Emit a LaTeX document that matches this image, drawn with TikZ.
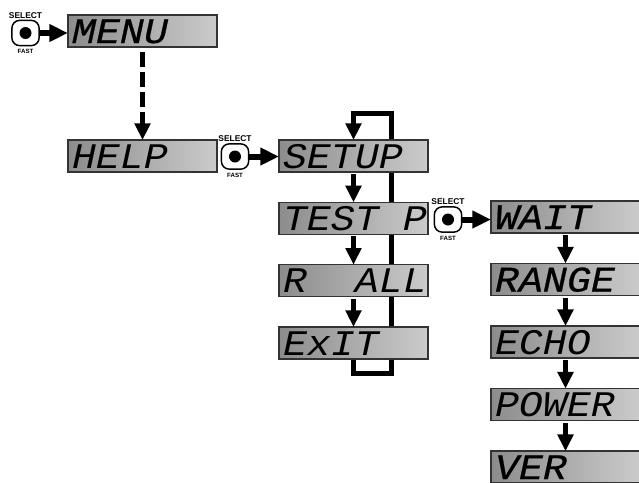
\documentclass[tikz,border=0pt]{standalone}
\usepackage{fontspec}
\usetikzlibrary{positioning,arrows.meta,backgrounds}
\newfontfamily\lcdfont[FakeStretch=1.11]{Liberation Mono}
\newfontfamily\lcdheavy[FakeStretch=1.11,FakeBold=0.6]{Liberation Mono}
\newfontfamily\keyfont{Liberation Sans}
\newcommand{\lcdblank}{\hspace*{18pt}}
\definecolor{lcddark}{HTML}{8C8C8C}
\definecolor{lcdlight}{HTML}{CBCBCB}
\definecolor{lcdedge}{HTML}{333333}
\begin{document}
\begin{tikzpicture}[x=0.75pt,y=-0.75pt,
     node distance = 22.75pt and 3mm,
every label/.style = {inner sep=0pt, outer sep=0pt},
        lcd/.style = {rectangle, draw=lcdedge, line width=1.1pt, outer sep=0pt,
                      left color=lcddark, middle color=lcdlight, right color=lcdlight,
                      minimum width=111.75pt, minimum height=24pt,
                      inner xsep=3pt, inner ysep=3pt, text width=105.75pt,
                      text height=18pt, text depth=0pt, align=left,
                      font=\lcdfont\itshape\fontsize{27}{27}\selectfont},
     lcdbold/.style = {lcd, font=\lcdheavy\itshape\fontsize{27}{27}\selectfont},
        key/.style = {rectangle, rounded corners=6pt, draw=black, fill=white,
                      line width=1.1pt, outer sep=0pt, inner sep=0pt,
                      minimum width=20.5pt, minimum height=19pt},
        dot/.style = {circle, fill=black, inner sep=0pt, minimum size=9pt},
     keytop/.style = {label distance=1.5pt, font=\keyfont\bfseries\fontsize{6.3}{6.3}\selectfont},
     keylow/.style = {label distance=3pt, font=\keyfont\bfseries\fontsize{4.6}{4.6}\selectfont},
       flow/.style = {line width=3.75pt,
                      -{Triangle[length=12.5pt,width=11.5pt]}},
    keyflow/.style = {line width=4.5pt,
                      -{Triangle[length=14pt,width=12.5pt]}}
                        ]
\useasboundingbox (0,0) rectangle (639,482);
\clip (0,0) rectangle (639,482);
\node (menu) [lcdbold,anchor=north west] at (68,15) {MENU};
\node (help) [lcd,anchor=north west] at (68,140) {HELP};
\node (setup) [lcd,anchor=north west] at (279,140) {SETUP};
\node (testp) [lcd,below =of setup] {TEST\lcdblank P};
\node (rall)  [lcd,below =of testp] {R\lcdblank\lcdblank ALL};
\node (exit)  [lcd,below =of rall] {ExIT};
\node (wait)  [lcdbold,anchor=north west] at (491,201) {WAIT};
\node (range) [lcdbold,below =22.9pt of wait] {RANGE};
\node (echo)  [lcd,below =22.9pt of range] {ECHO};
\node (power) [lcd,below =22.9pt of echo] {POWER};
\node (ver)   [lcdbold,below =22.9pt of power] {VER};
% select keys
\node (keya) [key,label={[keytop]above:SELECT},label={[keylow]below:FAST}] at (25.5,33) {};
\node (keyb) [key,label={[keytop]above:SELECT},label={[keylow]below:FAST}] at (235,156.5) {};
\node (keyc) [key,label={[keytop]above:SELECT},label={[keylow]below:FAST}] at (448,219.5) {};
\node (dota) [dot] at (keya) {};
\node (dotb) [dot] at (keyb) {};
\node (dotc) [dot] at (keyc) {};
\coordinate (loopbot) at (391.5,373);
\coordinate (looptop) at (391.5,113);
\begin{scope}[on background layer]
\draw[flow] (exit.south) |- (loopbot) -- (looptop) -| (setup.north);
\end{scope}
\draw[keyflow] (keya) -- (menu.west |- keya);
\draw[keyflow] (keyb) -- (setup.west |- keyb);
\draw[keyflow] (keyc) -- (wait.west |- keyc);
\draw[flow,dash pattern=on 11.5pt off 3.5pt,shorten <=3.5pt] (menu) -- (help);
\draw[flow,shorten <=1.5pt] (setup) -- (testp);
\draw[flow,shorten <=1.5pt] (testp) -- (rall);
\draw[flow,shorten <=1.5pt] (rall) -- (exit);
\draw[flow,shorten <=1.5pt] (wait) -- (range);
\draw[flow,shorten <=1.5pt] (range) -- (echo);
\draw[flow,shorten <=1.5pt] (echo) -- (power);
\draw[flow,shorten <=1.5pt] (power) -- (ver);
\end{tikzpicture}
\end{document}
